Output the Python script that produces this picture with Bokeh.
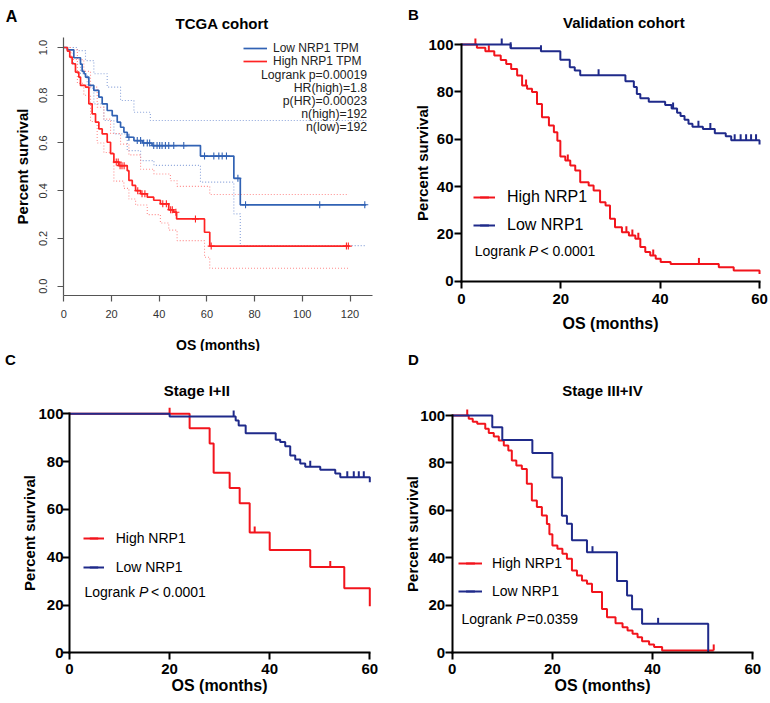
import numpy as np
from bokeh.plotting import figure
from bokeh.models import Range1d, FixedTicker, PrintfTickFormatter, Label, Legend, LegendItem
from bokeh.layouts import gridplot
from bokeh.embed import file_html
from bokeh.resources import INLINE

# ============================ DATA ============================
# ---- Panel A: TCGA cohort (survival fraction vs months) ----
A_title = "TCGA cohort"
A_x_ticks = [0, 20, 40, 60, 80, 100, 120]
A_y_ticks = [0.0, 0.2, 0.4, 0.6, 0.8, 1.0]
A_low_t = [0, 1.5, 4.2, 7.0, 7.7, 8.5, 9.1, 10.5, 12.6, 14.7, 16.1, 18.2, 20.3, 22.4, 23.8,
           25.2, 26.6, 29.4, 33.0, 37.0, 57.3, 71.3, 74.0]
A_low_s = [1.0, 0.99, 0.957, 0.93, 0.90, 0.89, 0.876, 0.841, 0.82, 0.792, 0.764, 0.736, 0.715,
           0.687, 0.666, 0.645, 0.624, 0.61, 0.60, 0.589, 0.545, 0.452, 0.341]
A_low_end = 126.8
A_low_cens = [27.3, 30.8, 32.2, 33.5, 35.0, 36.0, 37.7, 39.1, 40.2, 41.2, 42.6, 44.0, 46.1, 50.3,
              59.0, 62.9, 65.0, 66.4, 68.2, 73.0, 76.2, 107.3, 126.2]
A_high_t = [0, 1.5, 2.5, 3.5, 4.9, 6.3, 7.0, 9.1, 10.5, 11.9, 13.3, 14.7, 16.1, 18.2, 19.6, 21.0,
            23.1, 26.6, 27.3, 28.7, 30.1, 32.2, 35.0, 37.7, 40.5, 44.0, 46.1, 47.3, 59.0, 61.2]
A_high_s = [1.0, 0.985, 0.96, 0.932, 0.897, 0.876, 0.841, 0.834, 0.764, 0.722, 0.687, 0.659, 0.638,
            0.603, 0.555, 0.52, 0.505, 0.484, 0.443, 0.422, 0.40, 0.387, 0.373, 0.36, 0.345, 0.32,
            0.31, 0.282, 0.226, 0.168]
A_high_end = 119.5
A_high_cens = [22.0, 22.8, 23.6, 24.4, 25.3, 31.0, 32.8, 34.0, 41.5, 43.0, 44.8, 45.5, 47.0, 55.2,
               61.8, 118.5, 119.3]
# 95% confidence bands (dotted)
A_low_up_t = [0, 5.7, 9.1, 12.6, 18.2, 23.8, 29.4, 36.3]
A_low_up_s = [1.0, 0.987, 0.945, 0.89, 0.834, 0.778, 0.729, 0.694]
A_low_lo_t = [0, 4.0, 7.0, 9.8, 12.6, 16.8, 21.0, 26.6, 32.2, 37.8, 57.3, 71.3, 74.0]
A_low_lo_s = [1.0, 0.93, 0.89, 0.83, 0.764, 0.694, 0.638, 0.568, 0.526, 0.506, 0.436, 0.303, 0.17]
A_high_up_t = [0, 3.0, 5.7, 8.4, 11.2, 14.0, 16.8, 19.6, 23.8, 27.3, 32.2, 37.8, 44.7, 47.5, 61.2]
A_high_up_s = [1.0, 0.99, 0.949, 0.90, 0.834, 0.75, 0.70, 0.64, 0.595, 0.55, 0.49, 0.47, 0.442,
               0.418, 0.384]
A_high_lo_t = [0, 3.0, 5.7, 8.4, 11.2, 14.0, 16.8, 21.0, 25.2, 27.3, 30.1, 35.0, 40.5, 44.0, 47.5,
               59.0, 61.2]
A_high_lo_s = [1.0, 0.95, 0.85, 0.80, 0.69, 0.60, 0.56, 0.44, 0.41, 0.365, 0.34, 0.30, 0.265,
               0.235, 0.191, 0.121, 0.075]
A_x_max = 129.3
A_y_floor = -0.039
A_legend = ["Low NRP1 TPM", "High NRP1 TPM"]
A_stats = ["Logrank p=0.00019", "HR(high)=1.8", "p(HR)=0.00023", "n(high)=192", "n(low)=192"]

# ---- Shared for B, C, D ----
P_x_ticks = [0, 20, 40, 60]
P_y_ticks = [0, 20, 40, 60, 80, 100]
P_legend = ["High NRP1", "Low NRP1"]

# ---- Panel B: Validation cohort (percent survival) ----
B_title = "Validation cohort"
B_high_t = [0, 3.1, 4.8, 6.6, 7.9, 9.0, 10.0, 11.2, 12.2, 13.2, 14.2, 15.2, 16.2, 17.6, 18.6,
            19.3, 19.9, 20.9, 21.9, 22.9, 23.9, 25.6, 26.6, 27.9, 29.0, 29.9, 30.9, 32.3, 33.7,
            35.0, 36.0, 37.0, 38.0, 39.1, 40.1, 42.1, 51.8, 54.8, 60.0]
B_high_s = [100, 98.6, 97.2, 95.4, 93.5, 91.8, 89.7, 86.9, 82.7, 81.3, 79.9, 74.9, 69.3, 65.8,
            62.9, 59.3, 52.7, 51.0, 48.9, 46.8, 41.8, 40.4, 38.3, 33.4, 32.0, 26.4, 22.8, 20.7,
            19.3, 17.9, 14.4, 12.3, 10.9, 9.5, 8.1, 7.3, 5.9, 4.5, 3.0]
B_high_end = 60.0
B_high_cens = [2.8, 5.5, 13.0, 21.4, 33.2, 34.4, 35.6, 38.6, 47.8]
B_low_t = [0, 9.9, 16.0, 19.9, 21.8, 22.8, 23.9, 33.0, 34.7, 35.3, 36.0, 37.7, 41.0, 42.3, 43.4,
           44.1, 44.9, 45.7, 46.5, 48.6, 51.0, 53.2, 54.3, 60.0]
B_low_s = [100, 98.4, 97.2, 93.6, 90.4, 89.0, 87.0, 84.5, 82.0, 79.1, 77.3, 75.8, 74.4, 73.0,
           71.2, 69.8, 68.2, 66.5, 65.2, 64.3, 62.5, 61.2, 59.6, 57.8]
B_low_end = 60.0
B_low_cens = [8.1, 9.9, 16.0, 27.6, 42.6, 47.7, 50.1, 55.0, 56.2, 57.3, 58.3, 59.3]
B_logrank = ["Logrank ", "P", "< 0.0001"]

# ---- Panel C: Stage I+II ----
C_title = "Stage I+II"
C_high_t = [0, 24.0, 28.0, 28.8, 32.0, 34.0, 36.0, 40.0, 48.1, 54.9, 60.0]
C_high_s = [100, 94.0, 87.6, 75.3, 69.0, 62.6, 50.3, 43.0, 35.9, 27.0, 19.5]
C_high_end = 60.0
C_high_cens = [20.0, 37.0, 52.1]
C_low_t = [0, 20.0, 33.2, 33.8, 35.2, 41.2, 42.1, 43.1, 44.1, 45.1, 46.1, 47.1, 50.1, 53.1,
           54.1, 60.0]
C_low_s = [100, 98.9, 97.2, 95.1, 91.9, 89.1, 88.2, 86.4, 82.6, 80.9, 79.2, 77.8, 76.6, 75.0,
           73.5, 71.4]
C_low_end = 60.0
C_low_cens = [32.8, 48.1, 55.5, 56.8, 57.8, 58.8]
C_logrank = ["Logrank ", "P", "< 0.0001"]

# ---- Panel D: Stage III+IV ----
D_title = "Stage III+IV"
D_high_t = [0, 3.3, 4.1, 5.0, 6.6, 7.3, 8.3, 9.3, 10.3, 11.2, 11.9, 12.8, 13.9, 14.9, 15.9,
            16.9, 17.9, 18.9, 19.4, 20.0, 21.0, 22.0, 22.9, 23.9, 24.9, 25.9, 26.9, 27.9, 29.9,
            30.9, 32.6, 34.0, 35.0, 36.0, 37.0, 37.9, 39.3, 40.3, 41.9]
D_high_s = [100, 98.6, 97.4, 96.5, 94.4, 92.6, 91.2, 89.5, 87.4, 85.3, 81.0, 78.9, 77.5, 71.2,
            64.2, 61.4, 57.9, 54.3, 50.0, 45.2, 43.8, 41.7, 39.6, 34.7, 32.6, 30.5, 29.1, 25.6,
            18.5, 15.0, 12.5, 10.8, 9.4, 8.0, 6.6, 4.9, 3.5, 2.4, 1.0]
D_high_end = 52.2
D_high_cens = [3.0, 52.2]
D_low_t = [0, 8.0, 10.0, 16.0, 20.0, 21.9, 22.9, 23.9, 26.9, 32.9, 34.9, 35.9, 37.9, 51.1]
D_low_s = [100, 95.1, 89.7, 84.2, 73.9, 57.8, 54.4, 47.4, 42.4, 30.3, 24.1, 18.3, 12.2, 0.0]
D_low_end = 51.1
D_low_cens = [28.0, 41.1]
D_logrank = ["Logrank ", "P", "=0.0359"]

X_LABEL = "OS (months)"
Y_LABEL = "Percent survival"

# ============================ STYLE / HELPERS ============================
FONT = "Liberation Sans"
RED_P, BLUE_P = "#f2141c", "#1f2a8a"
RED_A, BLUE_A = "#ff2323", "#3162b4"
RED_CI, BLUE_CI = "#ff8c8c", "#8aa3da"

# figure geometry: origin on the page, size, pixel of data zero and pixels per data unit
GEOM = {
    "A": dict(ox=0, oy=0, w=385, h=351, x0=63.3, xppu=2.385, y0=285.7, yppu=238.7),
    "B": dict(ox=385, oy=0, w=385, h=351, x0=76.0, xppu=4.967, y0=280.7, yppu=2.367),
    "C": dict(ox=0, oy=351, w=385, h=352, x0=69.0, xppu=5.005, y0=301.3, yppu=2.39),
    "D": dict(ox=385, oy=351, w=385, h=352, x0=66.7, xppu=5.01, y0=301.3, yppu=2.373),
}


def steps(t, s, end):
    x, y = list(t), list(s)
    if end > x[-1]:
        x.append(end)
        y.append(y[-1])
    return x, y


def surv_at(t, s, tc):
    idx = np.searchsorted(np.asarray(t), np.asarray(tc), side="right") - 1
    return np.asarray(s)[idx]


def scr(g, rx, ry):
    return rx - g["ox"], g["h"] - (ry - g["oy"])


def add_text(p, g, rx, ry, text, size, style="normal", align="left", color="black"):
    sx, sy = scr(g, rx, ry)
    p.add_layout(Label(x=sx, y=sy, x_units="screen", y_units="screen", text=text,
                       text_font=FONT, text_font_size=f"{size}px", text_font_style=style,
                       text_align=align, text_baseline="middle", text_color=color))


def mkfig(g):
    xr = (-g["x0"] / g["xppu"], (g["w"] - g["x0"]) / g["xppu"])
    yr = ((g["y0"] - g["h"]) / g["yppu"], g["y0"] / g["yppu"])
    p = figure(width=g["w"], height=g["h"], x_range=Range1d(*xr), y_range=Range1d(*yr),
               output_backend="svg", toolbar_location=None,
               min_border_left=0, min_border_right=0, min_border_top=0, min_border_bottom=0)
    p.grid.visible = False
    p.outline_line_color = None
    p.background_fill_color = "white"
    p.border_fill_color = "white"
    return p


def legend_row(p, g, item, gl, gr, ry, tx, fsize, item_h, color="black"):
    """One legend entry whose glyph spans reference x gl..gr, centred at row ry."""
    leg = Legend(items=[item], location=(gl - g["ox"], g["h"] - (ry - g["oy"]) - item_h / 2),
                 padding=0, margin=0, spacing=0, glyph_width=int(round(gr - gl)),
                 glyph_height=item_h, label_height=item_h,
                 label_standoff=int(round(tx - gr)), label_text_font=FONT,
                 label_text_font_size=f"{fsize}px", label_text_color=color,
                 background_fill_alpha=0, border_line_alpha=0)
    p.add_layout(leg)


# ============================ PANEL A ============================
gA = GEOM["A"]
pA = mkfig(gA)
for (t, s, end, col) in [(A_low_up_t, A_low_up_s, A_low_end, BLUE_CI),
                         (A_low_lo_t, A_low_lo_s, A_low_end, BLUE_CI),
                         (A_high_up_t, A_high_up_s, A_high_end, RED_CI),
                         (A_high_lo_t, A_high_lo_s, A_high_end, RED_CI)]:
    x, y = steps(t, s, end)
    pA.step(x, y, mode="after", line_color=col, line_width=1.1, line_dash="1 2")
xl, yl = steps(A_low_t, A_low_s, A_low_end)
rA_low = pA.step(xl, yl, mode="after", line_color=BLUE_A, line_width=1.7)
pA.scatter(A_low_cens, surv_at(A_low_t, A_low_s, A_low_cens), marker="cross", size=7,
           line_color=BLUE_A, line_width=1.1)
xh, yh = steps(A_high_t, A_high_s, A_high_end)
rA_high = pA.step(xh, yh, mode="after", line_color=RED_A, line_width=1.7)
pA.scatter(A_high_cens, surv_at(A_high_t, A_high_s, A_high_cens), marker="cross", size=7,
           line_color=RED_A, line_width=1.1)

pA.xaxis.ticker = FixedTicker(ticks=A_x_ticks)
pA.yaxis.ticker = FixedTicker(ticks=A_y_ticks)
pA.yaxis.formatter = PrintfTickFormatter(format="%.1f")
pA.yaxis.major_label_orientation = "vertical"
pA.xaxis.fixed_location = A_y_floor
pA.yaxis.fixed_location = 0
pA.xaxis.bounds = (0, A_x_max)
pA.yaxis.bounds = (A_y_floor, 1.04)
for ax in (pA.xaxis[0], pA.yaxis[0]):
    ax.axis_line_color = "#555555"
    ax.axis_line_width = 1.2
    ax.major_tick_line_color = "#555555"
    ax.major_tick_line_width = 1.2
    ax.major_tick_out = 6
    ax.major_tick_in = 0
    ax.minor_tick_line_color = None
    ax.major_label_text_font = FONT
    ax.major_label_text_font_size = "11px"
    ax.major_label_text_color = "#333333"
    ax.axis_label_text_font = FONT
    ax.axis_label_text_font_style = "bold"
    ax.axis_label_text_color = "black"
pA.xaxis.axis_label = X_LABEL
pA.xaxis.axis_label_text_font_size = "14px"
pA.xaxis.major_label_standoff = 8
pA.xaxis.axis_label_standoff = 16
pA.yaxis.axis_label = Y_LABEL
pA.yaxis.axis_label_text_font_size = "15px"
pA.yaxis.major_label_standoff = 11
pA.yaxis.axis_label_standoff = 5

add_text(pA, gA, 221.7, 23.3, A_title, 15, "bold", "center")
add_text(pA, gA, 11, 16, "A", 16, "bold", "center")
legend_row(pA, gA, LegendItem(label=A_legend[0], renderers=[rA_low]),
           243, 267, 48.3, 273.3, 12, 14, color="#222222")
legend_row(pA, gA, LegendItem(label=A_legend[1], renderers=[rA_high]),
           243, 267, 61.2, 273.3, 12, 14, color="#222222")
for txt, ry in zip(A_stats, [74.2, 87.4, 100.3, 113.4, 126.7]):
    add_text(pA, gA, 366.7, ry, txt, 12.3, "normal", "right", "#222222")


# ============================ PRISM PANELS ============================
def km_prism(p, t, s, end, cens, color, px_per_unit):
    x, y = steps(t, s, end)
    line = p.step(x, y, mode="after", line_color=color, line_width=2)
    cy = surv_at(t, s, cens) + 3.0 / px_per_unit
    sc = p.scatter(cens, cy, marker="dash", angle=np.pi / 2, size=6, line_color=color,
                   line_width=2, fill_color=None)
    return line, sc


def style_prism(p, x_st, x_lst, y_st, y_lst):
    p.xaxis.ticker = FixedTicker(ticks=P_x_ticks)
    p.yaxis.ticker = FixedTicker(ticks=P_y_ticks)
    p.xaxis.fixed_location = 0
    p.yaxis.fixed_location = 0
    p.xaxis.bounds = (0, 60)
    p.yaxis.bounds = (0, 100)
    for ax in (p.xaxis[0], p.yaxis[0]):
        ax.axis_line_color = "black"
        ax.axis_line_width = 2
        ax.axis_line_cap = "square"
        ax.major_tick_line_color = "black"
        ax.major_tick_line_width = 2
        ax.major_tick_out = 7
        ax.major_tick_in = 0
        ax.minor_tick_line_color = None
        ax.major_label_text_font = FONT
        ax.major_label_text_font_style = "bold"
        ax.major_label_text_font_size = "15px"
        ax.major_label_text_color = "black"
        ax.axis_label_text_font = FONT
        ax.axis_label_text_font_style = "bold"
        ax.axis_label_text_color = "black"
    p.xaxis.axis_label = X_LABEL
    p.xaxis.axis_label_text_font_size = "16px"
    p.xaxis.major_label_standoff = x_st
    p.xaxis.axis_label_standoff = x_lst
    p.yaxis.axis_label = Y_LABEL
    p.yaxis.axis_label_text_font_size = "15px"
    p.yaxis.major_label_standoff = y_st
    p.yaxis.axis_label_standoff = y_lst


def prism_panel(key, high, low, title, tpos, letter, lpos, leg, lr, lr_x, lr_y,
                lr_size, leg_size, st):
    g = GEOM[key]
    p = mkfig(g)
    rh = km_prism(p, *high, RED_P, g["yppu"])
    rl = km_prism(p, *low, BLUE_P, g["yppu"])
    style_prism(p, *st)
    add_text(p, g, tpos[0], tpos[1], title, 15, "bold", "center")
    add_text(p, g, lpos[0], lpos[1], letter, 15, "bold", "center")
    gl, gr, r1, r2, tx = leg
    legend_row(p, g, LegendItem(label=P_legend[0], renderers=list(rh)), gl, gr, r1, tx,
               leg_size, 22)
    legend_row(p, g, LegendItem(label=P_legend[1], renderers=list(rl)), gl, gr, r2, tx,
               leg_size, 22)
    for txt, x0, sty in zip(lr, lr_x, ["normal", "italic", "normal"]):
        add_text(p, g, x0, lr_y, txt, lr_size, sty, "left")
    return p


pB = prism_panel("B", (B_high_t, B_high_s, B_high_end, B_high_cens),
                 (B_low_t, B_low_s, B_low_end, B_low_cens),
                 B_title, (623.3, 21.5), "B", (413, 14),
                 (473, 495, 196.7, 225, 506.7), B_logrank, [474.3, 528.3, 540], 250, 14, 16,
                 (6, 7, 1, -6))
pC = prism_panel("C", (C_high_t, C_high_s, C_high_end, C_high_cens),
                 (C_low_t, C_low_s, C_low_end, C_low_cens),
                 C_title, (196.3, 390), "C", (10, 358.5),
                 (82.7, 104, 538.3, 566.7, 116), C_logrank, [84, 138.5, 150.5], 591.7, 14, 14,
                 (4, 0, -1, -3))
pD = prism_panel("D", (D_high_t, D_high_s, D_high_end, D_high_cens),
                 (D_low_t, D_low_s, D_low_end, D_low_cens),
                 D_title, (602, 390), "D", (413, 358.5),
                 (458, 482, 563.3, 590.7, 492.3), D_logrank, [461, 515.5, 526.5], 618.3, 14, 14,
                 (4, 0, 0, -4))

grid = gridplot([[pA, pB], [pC, pD]], toolbar_location=None)
open("out.html", "w").write(file_html(grid, INLINE))
